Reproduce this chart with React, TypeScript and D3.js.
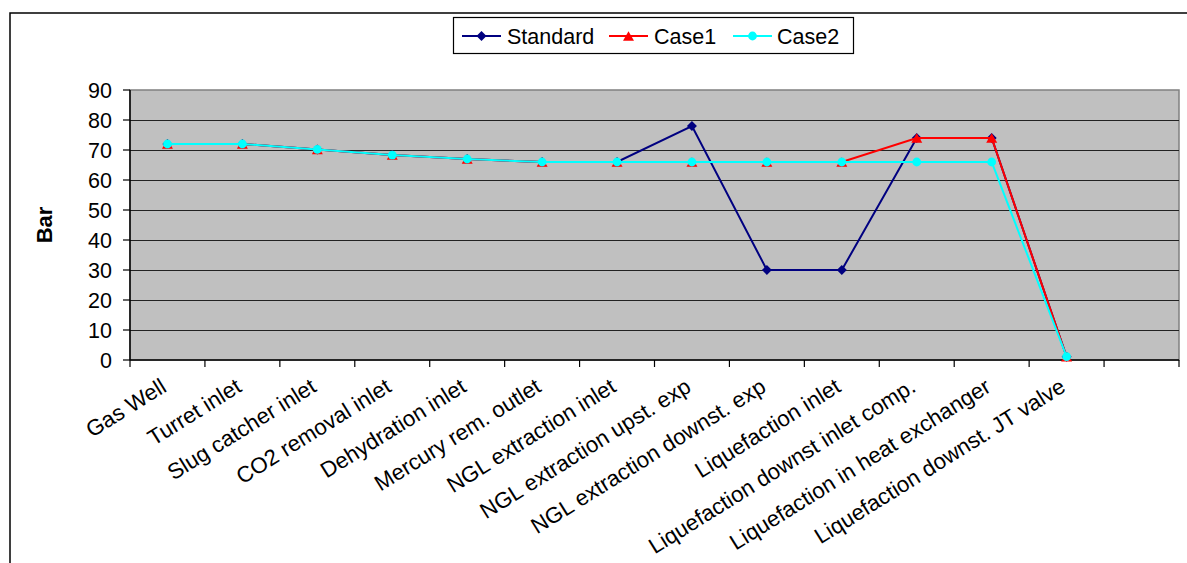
import React from "react";
import * as d3 from "d3";

const CATEGORIES = [
  "Gas Well",
  "Turret inlet",
  "Slug catcher inlet",
  "CO2 removal inlet",
  "Dehydration inlet",
  "Mercury rem. outlet",
  "NGL extraction inlet",
  "NGL extraction upst. exp",
  "NGL extraction downst. exp",
  "Liquefaction inlet",
  "Liquefaction downst inlet comp.",
  "Liquefaction in heat exchanger",
  "Liquefaction downst. JT valve",
];
// one empty slot is kept at the right end of the category axis
const SLOT_COUNT = 14;

const STANDARD = [72, 72, 70.2, 68.3, 67, 66, 66, 78, 30, 30, 74, 74, 1.1];
const CASE1 = [72, 72, 70.2, 68.3, 67, 66, 66, 66, 66, 66, 74, 74, 1.1];
const CASE2 = [72, 72, 70.2, 68.3, 67, 66, 66, 66, 66, 66, 66, 66, 1.1];

const Y_TICKS = [0, 10, 20, 30, 40, 50, 60, 70, 80, 90];

const SERIES = [
  { name: "Standard", values: STANDARD, color: "#000080", marker: "diamond" },
  { name: "Case1", values: CASE1, color: "#FF0000", marker: "triangle" },
  { name: "Case2", values: CASE2, color: "#00FFFF", marker: "circle" },
];

const W = 1187;
const H = 563;
const PLOT = { left: 130, right: 1179, top: 90, bottom: 360 };
const FONT = "'Liberation Sans', Arial, sans-serif";

function Marker({ kind, x, y, color }: { kind: string; x: number; y: number; color: string }) {
  if (kind === "diamond") {
    const r = 5;
    return <path d={`M${x},${y - r}L${x + r},${y}L${x},${y + r}L${x - r},${y}Z`} fill={color} />;
  }
  if (kind === "triangle") {
    const s = 5.5;
    const h = 9.5;
    return <path d={`M${x},${y - h / 2}L${x + s},${y + h / 2}L${x - s},${y + h / 2}Z`} fill={color} />;
  }
  return <circle cx={x} cy={y} r={4.4} fill={color} />;
}

export default function App() {
  const x = d3
    .scaleBand<number>()
    .domain(d3.range(SLOT_COUNT))
    .range([PLOT.left, PLOT.right])
    .paddingInner(0)
    .paddingOuter(0);
  const cx = (i: number) => (x(i) as number) + x.bandwidth() / 2;
  const y = d3.scaleLinear().domain([0, 90]).range([PLOT.bottom, PLOT.top]);

  const line = d3
    .line<number>()
    .x((_, i) => cx(i))
    .y((d) => y(d));

  const boundaries = d3.range(SLOT_COUNT + 1).map((i) => PLOT.left + i * x.bandwidth());

  const legendItems = [
    { lineX: 462, textX: 507 },
    { lineX: 609, textX: 654 },
    { lineX: 733, textX: 777 },
  ];

  return (
    <svg
      width={W}
      height={H}
      style={{ position: "absolute", left: 0, top: 0, background: "#fff" }}
      fontFamily={FONT}
    >
      {/* chart frame */}
      <rect x={10} y={13} width={W + 20} height={H + 20} fill="#fff" stroke="#000" strokeWidth={1.5} />

      {/* plot area */}
      <rect
        x={PLOT.left}
        y={PLOT.top}
        width={PLOT.right - PLOT.left}
        height={PLOT.bottom - PLOT.top}
        fill="#C0C0C0"
        stroke="#808080"
        strokeWidth={1.5}
      />

      {/* gridlines */}
      {Y_TICKS.filter((t) => t > 0 && t < 90).map((t) => (
        <line
          key={"g" + t}
          x1={PLOT.left}
          x2={PLOT.right}
          y1={Math.round(y(t)) + 0.5}
          y2={Math.round(y(t)) + 0.5}
          stroke="#222"
          strokeWidth={1}
        />
      ))}

      {/* y axis */}
      <line x1={PLOT.left} x2={PLOT.left} y1={PLOT.top} y2={PLOT.bottom} stroke="#000" strokeWidth={1.5} />
      {Y_TICKS.map((t) => (
        <g key={"y" + t}>
          <line x1={PLOT.left - 7} x2={PLOT.left} y1={y(t)} y2={y(t)} stroke="#000" strokeWidth={1.2} />
          <text x={112} y={y(t)} dy="0.36em" textAnchor="end" fontSize={21.5} fill="#000">
            {t}
          </text>
        </g>
      ))}

      {/* x axis */}
      <line x1={PLOT.left} x2={PLOT.right} y1={PLOT.bottom} y2={PLOT.bottom} stroke="#000" strokeWidth={1.5} />
      {boundaries.map((bx, i) => (
        <line key={"xt" + i} x1={bx} x2={bx} y1={PLOT.bottom} y2={PLOT.bottom + 7} stroke="#000" strokeWidth={1.2} />
      ))}
      {CATEGORIES.map((c, i) => (
        <text
          key={"xl" + i}
          transform={`translate(${cx(i) - 8},${PLOT.bottom + 17}) rotate(-32)`}
          dy="0.72em"
          textAnchor="end"
          fontSize={22.2}
          fill="#000"
        >
          {c}
        </text>
      ))}

      {/* y axis title */}
      <text
        transform={`translate(52,${(PLOT.top + PLOT.bottom) / 2}) rotate(-90)`}
        textAnchor="middle"
        fontSize={22}
        fontWeight="bold"
        fill="#000"
      >
        Bar
      </text>

      {/* series */}
      {SERIES.map((s) => (
        <g key={s.name}>
          <path d={line(s.values) || ""} fill="none" stroke={s.color} strokeWidth={2} />
          {s.values.map((v, i) => (
            <Marker key={i} kind={s.marker} x={cx(i)} y={y(v)} color={s.color} />
          ))}
        </g>
      ))}

      {/* legend */}
      <rect x={453.5} y={17.5} width={400} height={36} fill="#fff" stroke="#000" strokeWidth={1.2} />
      {SERIES.map((s, i) => (
        <g key={"lg" + s.name}>
          <line
            x1={legendItems[i].lineX}
            x2={legendItems[i].lineX + 39}
            y1={36}
            y2={36}
            stroke={s.color}
            strokeWidth={2}
          />
          <Marker kind={s.marker} x={legendItems[i].lineX + 19.5} y={36} color={s.color} />
          <text x={legendItems[i].textX} y={36} dy="0.36em" fontSize={21.5} fill="#000">
            {s.name}
          </text>
        </g>
      ))}
    </svg>
  );
}
